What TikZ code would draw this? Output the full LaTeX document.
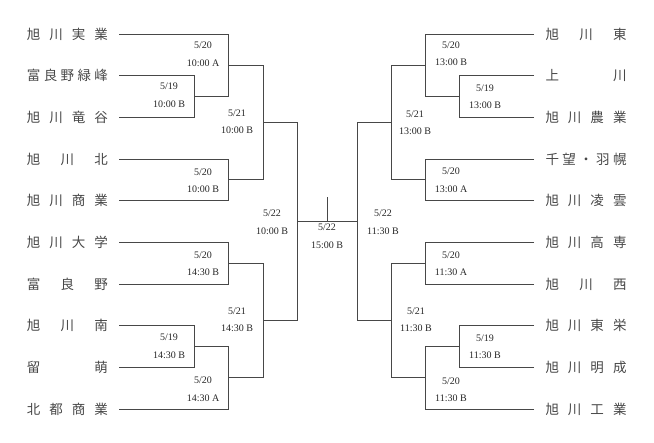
\documentclass[tikz,border=0pt]{standalone}
\usepackage{fontspec}
\setmainfont{Liberation Serif}
\newfontfamily\jpfont{Noto Sans CJK JP}
\newcommand\tm[1]{\makebox[81pt][s]{#1}}
\tikzset{
  bline/.style={draw=black!72, line width=0.8pt},
  team/.style={font=\jpfont\fontsize{13.5}{14}\selectfont, inner sep=0pt, text=black!72},
  info/.style={font=\fontsize{10}{17.5}\selectfont, align=center, inner sep=0pt, text=black!85},
}
\begin{document}
\begin{tikzpicture}[x=1pt,y=-1pt]
\useasboundingbox (0,0) rectangle (654,443);
% team names left
\node[team] (nL1) at (67.5,34) {\tm{旭\hfill 川\hfill 実\hfill 業}};
\node[team] (nL2) at (67.5,75.67) {\tm{富\hfill 良\hfill 野\hfill 緑\hfill 峰}};
\node[team] (nL3) at (67.5,117.33) {\tm{旭\hfill 川\hfill 竜\hfill 谷}};
\node[team] (nL4) at (67.5,159) {\tm{旭\hfill 川\hfill 北}};
\node[team] (nL5) at (67.5,200.67) {\tm{旭\hfill 川\hfill 商\hfill 業}};
\node[team] (nL6) at (67.5,242.33) {\tm{旭\hfill 川\hfill 大\hfill 学}};
\node[team] (nL7) at (67.5,284) {\tm{富\hfill 良\hfill 野}};
\node[team] (nL8) at (67.5,325.67) {\tm{旭\hfill 川\hfill 南}};
\node[team] (nL9) at (67.5,367.33) {\tm{留\hfill 萌}};
\node[team] (nL10) at (67.5,409) {\tm{北\hfill 都\hfill 商\hfill 業}};
% team names right
\node[team] (nR1) at (586,34) {\tm{旭\hfill 川\hfill 東}};
\node[team] (nR2) at (586,75.67) {\tm{上\hfill 川}};
\node[team] (nR3) at (586,117.33) {\tm{旭\hfill 川\hfill 農\hfill 業}};
\node[team] (nR4) at (586,159) {\tm{千\hfill 望\hfill ・\hfill 羽\hfill 幌}};
\node[team] (nR5) at (586,200.67) {\tm{旭\hfill 川\hfill 凌\hfill 雲}};
\node[team] (nR6) at (586,242.33) {\tm{旭\hfill 川\hfill 高\hfill 専}};
\node[team] (nR7) at (586,284) {\tm{旭\hfill 川\hfill 西}};
\node[team] (nR8) at (586,325.67) {\tm{旭\hfill 川\hfill 東\hfill 栄}};
\node[team] (nR9) at (586,367.33) {\tm{旭\hfill 川\hfill 明\hfill 成}};
\node[team] (nR10) at (586,409) {\tm{旭\hfill 川\hfill 工\hfill 業}};
% line starts
\foreach \i/\y in {1/34,2/75.67,3/117.33,4/159,5/200.67,6/242.33,7/284,8/325.67,9/367.33,10/409}{
  \coordinate (tL\i) at (119,\y);
  \coordinate (tR\i) at (534,\y);
}
% left junctions
\coordinate (LA) at (194,96.5);
\coordinate (LB) at (228,65.25);
\coordinate (LC) at (228,179.83);
\coordinate (LD) at (263,122.54);
\coordinate (LE) at (228,263.17);
\coordinate (LF) at (194,346.5);
\coordinate (LG) at (228,377.75);
\coordinate (LH) at (263,320.46);
\coordinate (LI) at (297,221.5);
% right junctions
\coordinate (RA) at (459,96.5);
\coordinate (RB) at (425,65.25);
\coordinate (RC) at (425,179.83);
\coordinate (RD) at (391,122.54);
\coordinate (RE) at (425,263.17);
\coordinate (RF) at (459,346.5);
\coordinate (RG) at (425,377.75);
\coordinate (RH) at (391,320.46);
\coordinate (RI) at (357,221.5);
\coordinate (FM) at (327,221.5);
\coordinate (FT) at (327,197);
% left bracket
\draw[bline] (tL2) -| (LA) (tL3) -| (LA);
\draw[bline] (tL1) -| (LB) (LA) -| (LB);
\draw[bline] (tL4) -| (LC) (tL5) -| (LC);
\draw[bline] (LB) -| (LD) (LC) -| (LD);
\draw[bline] (tL6) -| (LE) (tL7) -| (LE);
\draw[bline] (tL8) -| (LF) (tL9) -| (LF);
\draw[bline] (LF) -| (LG) (tL10) -| (LG);
\draw[bline] (LE) -| (LH) (LG) -| (LH);
\draw[bline] (LD) -| (LI) (LH) -| (LI);
% right bracket
\draw[bline] (tR2) -| (RA) (tR3) -| (RA);
\draw[bline] (tR1) -| (RB) (RA) -| (RB);
\draw[bline] (tR4) -| (RC) (tR5) -| (RC);
\draw[bline] (RB) -| (RD) (RC) -| (RD);
\draw[bline] (tR6) -| (RE) (tR7) -| (RE);
\draw[bline] (tR8) -| (RF) (tR9) -| (RF);
\draw[bline] (RF) -| (RG) (tR10) -| (RG);
\draw[bline] (RE) -| (RH) (RG) -| (RH);
\draw[bline] (RD) -| (RI) (RH) -| (RI);
% final
\draw[bline] (LI) -- (RI);
\draw[bline] (FM) -- (FT);
% match info left
\node[info] (iA1) at (203,54) {5/20\\10:00 A};
\node[info] (iA2) at (169,95.5) {5/19\\10:00 B};
\node[info] (iA3) at (237,122) {5/21\\10:00 B};
\node[info] (iA4) at (203,180.5) {5/20\\10:00 B};
\node[info] (iA5) at (272,222.5) {5/22\\10:00 B};
\node[info] (iA6) at (203,263.5) {5/20\\14:30 B};
\node[info] (iA7) at (169,346.5) {5/19\\14:30 B};
\node[info] (iA8) at (237,320) {5/21\\14:30 B};
\node[info] (iA9) at (203,389) {5/20\\14:30 A};
% center
\node[info] (iC) at (327,236.5) {5/22\\15:00 B};
% match info right
\node[info] (iB1) at (451,53.5) {5/20\\13:00 B};
\node[info] (iB2) at (485,97) {5/19\\13:00 B};
\node[info] (iB3) at (415,123) {5/21\\13:00 B};
\node[info] (iB4) at (451,180) {5/20\\13:00 A};
\node[info] (iB5) at (383,222.5) {5/22\\11:30 B};
\node[info] (iB6) at (451,263.5) {5/20\\11:30 A};
\node[info] (iB7) at (416,320) {5/21\\11:30 B};
\node[info] (iB8) at (485,347) {5/19\\11:30 B};
\node[info] (iB9) at (451,389.5) {5/20\\11:30 B};
\end{tikzpicture}
\end{document}
